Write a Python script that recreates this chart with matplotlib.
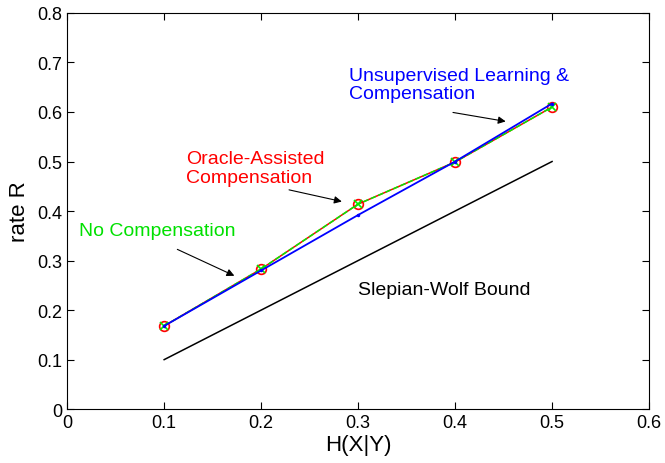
import numpy as np
import matplotlib
matplotlib.use("Agg")
import matplotlib.pyplot as plt

plt.rcParams['font.family'] = ['Liberation Sans', 'DejaVu Sans']

# donnees
h = [0.1, 0.2, 0.3, 0.4, 0.5]
r_oracle = [0.168, 0.283, 0.414, 0.499, 0.610]
r_nocomp = [0.168, 0.283, 0.414, 0.499, 0.610]
r_unsup = [0.168, 0.280, 0.392, 0.500, 0.617]
sw_bound = [0.1, 0.2, 0.3, 0.4, 0.5]

fig = plt.figure(figsize=(6.65, 4.64), dpi=100)
ax = fig.add_axes([0.101, 0.116, 0.875, 0.854])

ax.plot(h, sw_bound, color='black', lw=1.1)
ax.plot(h, r_oracle, color='red', lw=1.1, marker='o', ms=7, mfc='none', mec='red', mew=1.2)
ax.plot(h, r_nocomp, color='#00ee00', lw=1.1, ls='--', marker='x', ms=6, mew=1.2)
ax.plot(h, r_unsup, color='blue', lw=1.3, marker='.', ms=3)

ax.text(0.012, 0.36, 'No Compensation', color='#00e000', fontsize=14, va='center')
ax.text(0.123, 0.487, 'Oracle-Assisted\nCompensation', color='red', fontsize=14,
        va='center', linespacing=1.1)
ax.text(0.291, 0.655, 'Unsupervised Learning &\nCompensation', color='blue', fontsize=14,
        va='center', linespacing=1.1)
ax.text(0.30, 0.242, 'Slepian-Wolf Bound', color='black', fontsize=14, va='center')

arr = dict(arrowstyle='-|>', color='black', lw=0.8, mutation_scale=11)
ax.annotate('', xy=(0.175, 0.267), xytext=(0.111, 0.325), arrowprops=arr)
ax.annotate('', xy=(0.286, 0.418), xytext=(0.226, 0.444), arrowprops=arr)
ax.annotate('', xy=(0.455, 0.58), xytext=(0.395, 0.60), arrowprops=arr)

ax.set_xlim(0, 0.6)
ax.set_ylim(0, 0.8)
ax.set_xticks(np.arange(0, 0.61, 0.1))
ax.set_yticks(np.arange(0, 0.81, 0.1))
ax.set_xticklabels(['0', '0.1', '0.2', '0.3', '0.4', '0.5', '0.6'])
ax.set_yticklabels(['0', '0.1', '0.2', '0.3', '0.4', '0.5', '0.6', '0.7', '0.8'])
ax.tick_params(direction='in', top=True, right=True, labelsize=13, length=5)
ax.set_xlabel('H(X|Y)', fontsize=16, labelpad=2)
ax.set_ylabel('rate R', fontsize=16, labelpad=5)

fig.savefig('out.png')
